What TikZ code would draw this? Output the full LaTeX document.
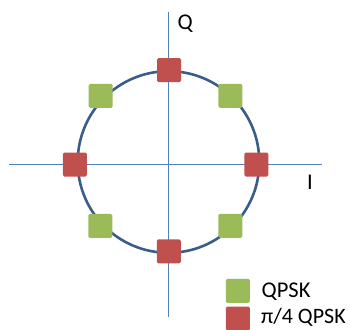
\documentclass[tikz,border=0pt]{standalone}
\usepackage{fontspec}
\setmainfont{Carlito}
\definecolor{qgreen}{RGB}{155,187,89}
\definecolor{qred}{RGB}{192,80,77}
\definecolor{ring}{RGB}{56,93,138}
\definecolor{axis}{RGB}{79,129,189}
\begin{document}
\begin{tikzpicture}[x=1pt,y=-1pt,
  pt/.style={minimum size=24pt,inner sep=0pt,rounded corners=1.5pt},
  gpt/.style={pt,fill=qgreen},
  rpt/.style={pt,fill=qred},
  lbl/.style={font=\fontsize{22.5}{25}\selectfont,inner sep=0pt,anchor=base west}]
\useasboundingbox (0,0) rectangle (350,329);
\coordinate (qtop) at (168.5,12.3);
\coordinate (qbot) at (168.5,316.7);
\coordinate (ileft) at (9,164.3);
\coordinate (iright) at (321.7,164.3);
\draw[axis,line width=1pt] (qtop) -- (qbot);
\draw[axis,line width=1pt] (ileft) -- (iright);
\draw[ring,line width=2.6pt] (168.5,162) ellipse [x radius=90.8, y radius=90.8];
\node[rpt] (r1) at (169,70.2) {};
\node[rpt] (r2) at (168.8,251.3) {};
\node[rpt] (r3) at (74.8,164.5) {};
\node[rpt] (r4) at (256.3,164.5) {};
\node[gpt] (g1) at (100.7,95.8) {};
\node[gpt] (g2) at (230.3,95.8) {};
\node[gpt] (g3) at (100.3,225.8) {};
\node[gpt] (g4) at (230.3,225.8) {};
\node[lbl] (Q) at (177.5,30) {Q};
\node[lbl] (I) at (307,189) {I};
\node[gpt] (lg) at (237.8,290.8) {};
\node[rpt] (lr) at (237.8,318.5) {};
\node[lbl] (lgt) at (261.5,297.7) {QPSK};
\node[lbl,font=\fontsize{22}{25}\selectfont] (lrt) at (261,323.5) {π/4 QPSK};
\end{tikzpicture}
\end{document}
